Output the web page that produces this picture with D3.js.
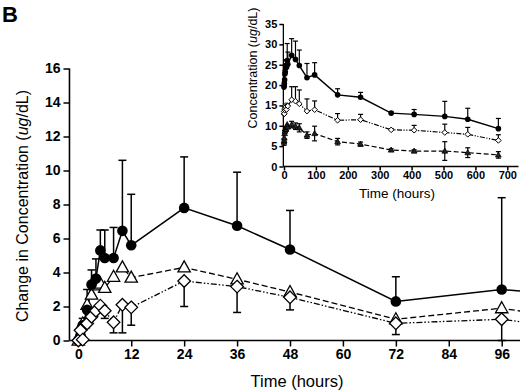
<!DOCTYPE html>
<html>
<head>
<meta charset="utf-8">
<script src="https://cdn.jsdelivr.net/npm/d3@7"></script>
<style>
body { margin: 0; background: #fff; }
svg { display: block; font-family: "Liberation Sans", Arial, sans-serif; }
.tick text { font-weight: bold; fill: #000; }
.tick line { stroke: #000; stroke-width: 1.5; }
</style>
</head>
<body>
<div id="chart"></div>
<script>
// main panel: change from baseline, first 96 h
var times = [0, 0.5, 1, 2, 3, 4, 5, 6, 8, 10, 12, 24, 36, 48, 72, 96, 120];
var circleVals = [0, 0.3, 0.9, 1.8, 3.3, 3.65, 5.3, 4.85, 4.85, 6.45, 5.6, 7.8, 6.75, 5.35, 2.3, 3.0, 2.45];
var circleErr = [0, 0, 0.4, 1.2, 0.85, 1.15, 1.2, 1.65, 1.8, 4.15, 3.0, 3.0, 3.15, 2.3, 1.45, 5.4, 0];
var triangleVals = [0, 0.4, 1.0, 2.1, 2.7, 3.25, 3.35, 3.1, 3.75, 4.3, 3.7, 4.3, 3.6, 2.85, 1.25, 1.9, 0.95];
var diamondVals = [0, 0.6, 0.05, 1.0, 1.4, 1.75, 2.05, 1.75, 1.07, 2.1, 1.95, 3.5, 3.17, 2.54, 1.01, 1.25, 0.43];
var diamondErr = [0, 0, 0, 0, 0, 0, 0, 0.45, 0.62, 1.65, 1.05, 1.5, 1.52, 0.74, 0.66, 1.25, 0];
var mainXTicks = [0, 12, 24, 36, 48, 60, 72, 84, 96];
var mainYTicks = [0, 2, 4, 6, 8, 10, 12, 14, 16];

// inset: absolute concentration over 4 weeks
var insetTimes = [0, 0.5, 1, 2, 3, 4, 5, 6, 8, 10, 12, 24, 36, 48, 72, 96, 168, 240, 336, 408, 504, 576, 672];
var insetCircle = [19.5, 19.8, 20.4, 21.3, 22.8, 23.2, 24.8, 24.4, 24.4, 26.0, 25.1, 27.3, 26.3, 24.8, 21.8, 22.5, 17.6, 17.0, 13.1, 12.8, 12.3, 11.6, 9.3];
var insetCircleErr = [0, 0, 0.4, 1.2, 0.9, 1.2, 1.2, 1.7, 1.8, 4.2, 3.0, 4.1, 4.5, 3.8, 3.5, 3.0, 1.5, 1.2, 0.3, 1.2, 3.7, 2.7, 2.5];
var insetDiamond = [12.9, 13.5, 12.95, 13.9, 14.3, 14.65, 14.95, 14.65, 14.0, 15.0, 14.85, 16.4, 16.05, 15.4, 13.6, 13.95, 11.35, 11.5, 9.0, 8.9, 8.35, 7.9, 6.4];
var insetDiamondErr = [0, 0, 0, 0, 0, 0, 0, 0, 0, 0, 0, 3.2, 3.55, 3.4, 3.0, 2.15, 1.65, 1.3, 0.3, 1.2, 2.05, 1.7, 1.4];
var insetTriangle = [6.0, 6.4, 7.0, 8.1, 8.7, 9.25, 9.35, 9.1, 9.75, 10.3, 9.7, 10.3, 9.9, 9.5, 7.7, 8.1, 6.1, 5.5, 4.05, 3.8, 3.8, 3.4, 2.85];
var insetTriangleErr = [0.8, 0, 0, 0, 0, 0, 0, 0, 0, 0, 0, 0.8, 0.8, 1.0, 0.8, 1.8, 0.8, 0.5, 0.3, 0.3, 2.3, 1.2, 0.8];
var insetXTicks = [0, 100, 200, 300, 400, 500, 600, 700];
var insetYTicks = [0, 5, 10, 15, 20, 25, 30, 35];

var width = 520, height = 392;

var svg = d3.select("#chart").append("svg")
  .attr("width", width)
  .attr("height", height);

function zip(ts, vs, es) {
  return ts.map(function(t, i) { return { t: t, v: vs[i], e: es ? es[i] : 0 }; });
}

var diamondPath = function(s) { return "M0," + (-s) + "L" + s + ",0L0," + s + "L" + (-s) + ",0Z"; };
var trianglePath = function(s) { return "M0," + (-s) + "L" + (s * 0.95) + "," + (s * 0.7) + "L" + (-s * 0.95) + "," + (s * 0.7) + "Z"; };

// ---------- main panel ----------
var x = d3.scaleLinear().domain([0, 96]).range([78.3, 501.7]);
var y = d3.scaleLinear().domain([0, 16]).range([340.5, 68.5]);

var main = svg.append("g");

var yAx = main.append("g")
  .attr("transform", "translate(" + x(-2) + ",0)")
  .call(d3.axisLeft(y).tickValues(mainYTicks).tickSize(6).tickPadding(3));
yAx.select(".domain").remove();
yAx.selectAll("text").style("font-size", "14px");

var xAx = main.append("g")
  .attr("transform", "translate(0," + y(0) + ")")
  .call(d3.axisBottom(x).tickValues(mainXTicks).tickSize(6).tickPadding(3));
xAx.select(".domain").remove();
xAx.selectAll("text").style("font-size", "14px");

main.append("line")
  .attr("x1", x(-2)).attr("x2", x(-2))
  .attr("y1", y(16)).attr("y2", y(0))
  .attr("stroke", "#000").attr("stroke-width", 1.6);
main.append("line")
  .attr("x1", x(-2)).attr("x2", x(110))
  .attr("y1", y(0)).attr("y2", y(0))
  .attr("stroke", "#000").attr("stroke-width", 1.6);

var line = d3.line().x(function(d) { return x(d.t); }).y(function(d) { return y(d.v); });

var circles = zip(times, circleVals, circleErr);
var tris = zip(times, triangleVals);
var dias = zip(times, diamondVals, diamondErr);

function errBars(g, data, xs, ys, dir, cap, sw) {
  var bars = data.filter(function(d) { return d.e > 0; });
  bars.forEach(function(d) {
    var ends = [];
    if (dir === "up" || dir === "both") ends.push(d.v + d.e);
    if (dir === "down" || dir === "both") ends.push(Math.max(0, d.v - d.e));
    ends.forEach(function(end) {
      g.append("line")
        .attr("x1", xs(d.t)).attr("x2", xs(d.t))
        .attr("y1", ys(d.v)).attr("y2", ys(end))
        .attr("stroke", "#000").attr("stroke-width", sw);
      g.append("line")
        .attr("x1", xs(d.t) - cap).attr("x2", xs(d.t) + cap)
        .attr("y1", ys(end)).attr("y2", ys(end))
        .attr("stroke", "#000").attr("stroke-width", sw);
    });
  });
}

errBars(main, circles, x, y, "up", 4, 1.5);
errBars(main, dias, x, y, "down", 4, 1.5);

main.append("path").attr("d", line(tris))
  .attr("fill", "none").attr("stroke", "#000").attr("stroke-width", 1.3)
  .attr("stroke-dasharray", "6,3");
main.append("path").attr("d", line(dias))
  .attr("fill", "none").attr("stroke", "#000").attr("stroke-width", 1.3)
  .attr("stroke-dasharray", "6,2,1.5,2,1.5,2");
main.append("path").attr("d", line(circles))
  .attr("fill", "none").attr("stroke", "#000").attr("stroke-width", 1.5);

main.selectAll(".tri").data(tris).enter().append("path")
  .attr("d", trianglePath(6.5))
  .attr("transform", function(d) { return "translate(" + x(d.t) + "," + y(d.v) + ")"; })
  .attr("fill", "#fff").attr("stroke", "#000").attr("stroke-width", 1.3);
main.selectAll(".dot").data(circles).enter().append("circle")
  .attr("cx", function(d) { return x(d.t); })
  .attr("cy", function(d) { return y(d.v); })
  .attr("r", 5.3).attr("fill", "#000");
main.selectAll(".dia").data(dias).enter().append("path")
  .attr("d", diamondPath(6.3))
  .attr("transform", function(d) { return "translate(" + x(d.t) + "," + y(d.v) + ")"; })
  .attr("fill", "#fff").attr("stroke", "#000").attr("stroke-width", 1.3);

// titles
var yTitle = svg.append("text")
  .attr("transform", "translate(28,206) rotate(-90)")
  .attr("text-anchor", "middle")
  .style("font-size", "16px");
yTitle.append("tspan").text("Change in Concentration (");
yTitle.append("tspan").style("font-style", "italic").text("ug");
yTitle.append("tspan").text("/dL)");

svg.append("text")
  .attr("x", 297).attr("y", 387)
  .attr("text-anchor", "middle")
  .style("font-size", "16.5px")
  .text("Time  (hours)");

svg.append("text")
  .attr("x", 2).attr("y", 22)
  .style("font-size", "22px").style("font-weight", "bold")
  .text("B");

// ---------- inset ----------
var ix = d3.scaleLinear().domain([0, 700]).range([284, 507.3]);
var iy = d3.scaleLinear().domain([0, 35]).range([166.5, 24]);

var inset = svg.append("g");

var iyAx = inset.append("g")
  .attr("transform", "translate(" + ix(-2) + ",0)")
  .call(d3.axisLeft(iy).tickValues(insetYTicks).tickSize(4).tickPadding(2));
iyAx.select(".domain").remove();
iyAx.selectAll("text").style("font-size", "11px");

var ixAx = inset.append("g")
  .attr("transform", "translate(0," + iy(0) + ")")
  .call(d3.axisBottom(ix).tickValues(insetXTicks).tickSize(4).tickPadding(1));
ixAx.select(".domain").remove();
ixAx.selectAll("text").style("font-size", "11px");

inset.append("line")
  .attr("x1", ix(-2)).attr("x2", ix(-2))
  .attr("y1", iy(35)).attr("y2", iy(0))
  .attr("stroke", "#000").attr("stroke-width", 1.3);
inset.append("line")
  .attr("x1", ix(-2)).attr("x2", ix(735))
  .attr("y1", iy(0)).attr("y2", iy(0))
  .attr("stroke", "#000").attr("stroke-width", 1.3);

var iline = d3.line().x(function(d) { return ix(d.t); }).y(function(d) { return iy(d.v); });

var iCircles = zip(insetTimes, insetCircle, insetCircleErr);
var iDias = zip(insetTimes, insetDiamond, insetDiamondErr);
var iTris = zip(insetTimes, insetTriangle, insetTriangleErr);

errBars(inset, iCircles, ix, iy, "up", 2.5, 1.2);
errBars(inset, iDias, ix, iy, "up", 2.5, 1.2);
errBars(inset, iTris, ix, iy, "both", 2.5, 1.2);

inset.append("path").attr("d", iline(iTris))
  .attr("fill", "none").attr("stroke", "#000").attr("stroke-width", 1.2)
  .attr("stroke-dasharray", "5,2.5");
inset.append("path").attr("d", iline(iDias))
  .attr("fill", "none").attr("stroke", "#000").attr("stroke-width", 1.2)
  .attr("stroke-dasharray", "5,1.5,1.2,1.5,1.2,1.5");
inset.append("path").attr("d", iline(iCircles))
  .attr("fill", "none").attr("stroke", "#000").attr("stroke-width", 1.4);

inset.selectAll(".itri").data(iTris).enter().append("path")
  .attr("d", trianglePath(3))
  .attr("transform", function(d) { return "translate(" + ix(d.t) + "," + iy(d.v) + ")"; })
  .attr("fill", "#222").attr("stroke", "#000").attr("stroke-width", 0.8);
inset.selectAll(".idia").data(iDias).enter().append("path")
  .attr("d", diamondPath(2.8))
  .attr("transform", function(d) { return "translate(" + ix(d.t) + "," + iy(d.v) + ")"; })
  .attr("fill", "#fff").attr("stroke", "#000").attr("stroke-width", 1);
inset.selectAll(".idot").data(iCircles).enter().append("circle")
  .attr("cx", function(d) { return ix(d.t); })
  .attr("cy", function(d) { return iy(d.v); })
  .attr("r", 2.8).attr("fill", "#000");

var iyTitle = svg.append("text")
  .attr("transform", "translate(257,68) rotate(-90)")
  .attr("text-anchor", "middle")
  .style("font-size", "12.5px");
iyTitle.append("tspan").text("Concentration (");
iyTitle.append("tspan").style("font-style", "italic").text("ug");
iyTitle.append("tspan").text("/dL)");

svg.append("text")
  .attr("x", 397).attr("y", 198)
  .attr("text-anchor", "middle")
  .style("font-size", "13.5px")
  .text("Time  (hours)");
</script>
</body>
</html>
